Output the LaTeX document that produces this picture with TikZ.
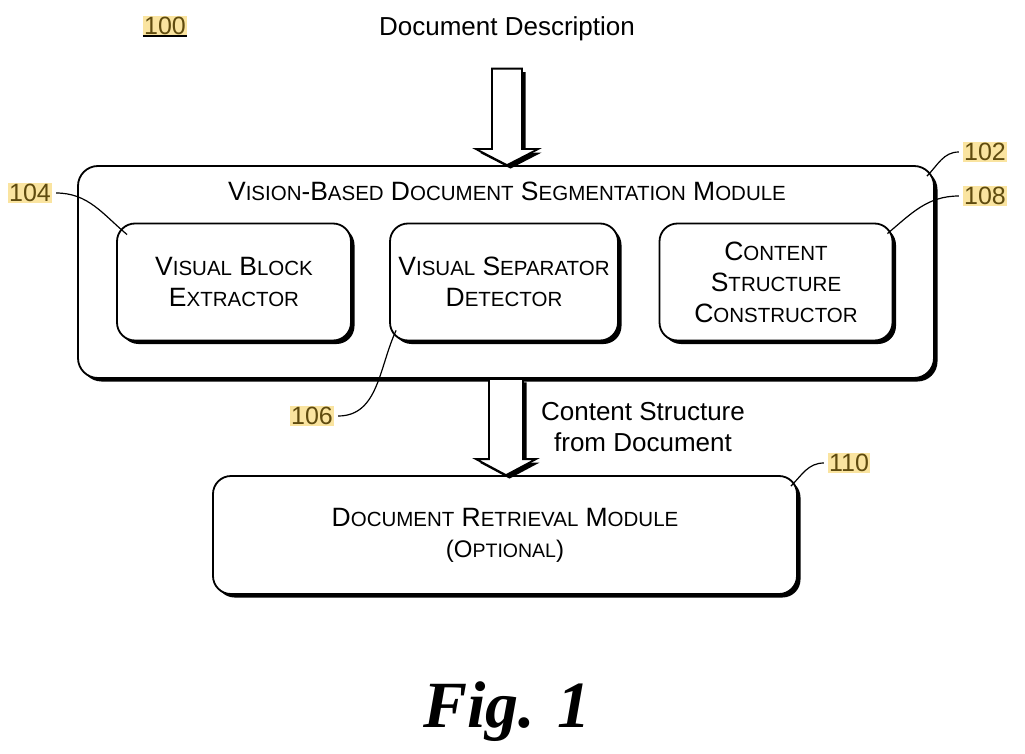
\documentclass[tikz,border=0pt]{standalone}
\usepackage{fontspec}
\setmainfont{Liberation Sans}
\newfontfamily\figfont{Liberation Serif}
\usetikzlibrary{
    calc,
    shadows,
    positioning
}
\definecolor{refbg}{RGB}{250,228,160}
\definecolor{refink}{RGB}{95,75,15}
% fake small caps: big first letter, smaller rest
\newcommand\smc[2]{{\fontsize{26.5}{31}\selectfont#1}{\fontsize{20.5}{31}\selectfont#2}}

\tikzset{
    darkshadow/.style={drop shadow={shadow xshift=3.5pt, shadow yshift=-3.5pt, fill=black, opacity=1}},
    box/.style={draw, line width=1.8pt, rounded corners=18pt, fill=white, inner sep=0pt, darkshadow},
    txt/.style={font=\fontsize{26}{31}\selectfont, align=center},
    refnum/.style={fill=refbg, text=refink, inner sep=1pt, font=\fontsize{25}{28}\selectfont},
    leader/.style={line width=1.2pt},
    bigarrow/.style={draw, line width=1.8pt, fill=white, line join=miter, darkshadow}
}

\begin{document}
\begin{tikzpicture}[x=1pt, y=1pt]
    \useasboundingbox (0,0) rectangle (1025,-754);

    \node[txt] (desc) at (507,-29) {Document Description};
    \node[refnum] (l100) at (165,-26) {100};
    \draw[line width=1.6pt] (l100.south west) -- (l100.south east);

    % segmentation module
    \node[box, rounded corners=20pt, minimum width=856pt, minimum height=212pt] (seg) at (506,-272) {};
    \node[txt] (segtitle) at (507,-191)
        {\smc{V}{ISION}-\smc{B}{ASED} \smc{D}{OCUMENT} \smc{S}{EGMENTATION} \smc{M}{ODULE}};
    \node[box, txt, minimum width=234pt, minimum height=117pt] (vbe) at (234,-282)
        {\smc{V}{ISUAL} \smc{B}{LOCK}\\\smc{E}{XTRACTOR}};
    \node[box, txt, minimum width=228pt, minimum height=117pt] (vsd) at (504,-282)
        {\smc{V}{ISUAL} \smc{S}{EPARATOR}\\\smc{D}{ETECTOR}};
    \node[box, txt, minimum width=233pt, minimum height=117pt] (csc) at (776,-282)
        {\smc{C}{ONTENT}\\\smc{S}{TRUCTURE}\\\smc{C}{ONSTRUCTOR}};

    % retrieval module
    \node[box, txt, minimum width=584pt, minimum height=118pt] (drm) at (505,-535)
        {\smc{D}{OCUMENT} \smc{R}{ETRIEVAL} \smc{M}{ODULE}\\
         {\fontsize{24}{31}\selectfont(O}{\fontsize{19.5}{31}\selectfont PTIONAL}{\fontsize{24}{31}\selectfont)}};
    \node[txt] (cstext) at (643,-427) {Content Structure\\from Document};

    % block arrows
    \draw[bigarrow] let \p1=($(desc.south)+(0,-24)$), \p2=(seg.north) in
        (\x1-15pt,\y1) -- (\x1-15pt,\y2+16pt) -- (\x1-31pt,\y2+16pt) -- (\x1,\y2)
        -- (\x1+31pt,\y2+16pt) -- (\x1+15pt,\y2+16pt) -- (\x1+15pt,\y1) -- cycle;
    \draw[bigarrow] let \p1=(seg.south), \p2=(drm.north) in
        (\x1-17pt,\y1) -- (\x1-17pt,\y2+16pt) -- (\x1-30pt,\y2+16pt) -- (\x1,\y2)
        -- (\x1+30pt,\y2+16pt) -- (\x1+17pt,\y2+16pt) -- (\x1+17pt,\y1) -- cycle;

    % reference numerals
    \node[refnum] (l102) at (985,-152) {102};
    \node[refnum] (l104) at (30,-193) {104};
    \node[refnum] (l106) at (312,-416) {106};
    \node[refnum] (l108) at (985,-196) {108};
    \node[refnum] (l110) at (849,-463) {110};
    \draw[leader] ([xshift=-4pt]l102.west) to[out=180, in=45] ($(seg.north east)+(-8,-11)$);
    \draw[leader] ([xshift=4pt]l104.east) to[out=0, in=140] ($(vbe.north west)+(11,-12)$);
    \draw[leader] ([xshift=4pt]l106.east) to[out=0, in=-115] ($(vsd.south west)+(7,11)$);
    \draw[leader] ([xshift=-4pt]l108.west) to[out=180, in=40] ($(csc.north east)+(-6,-11)$);
    \draw[leader] ([xshift=-4pt]l110.west) to[out=180, in=45] ($(drm.north east)+(-7,-11)$);

    \node[font=\figfont\bfseries\itshape\fontsize{66}{70}\selectfont] (fig) at (507,-712) {Fig. 1};
\end{tikzpicture}
\end{document}
